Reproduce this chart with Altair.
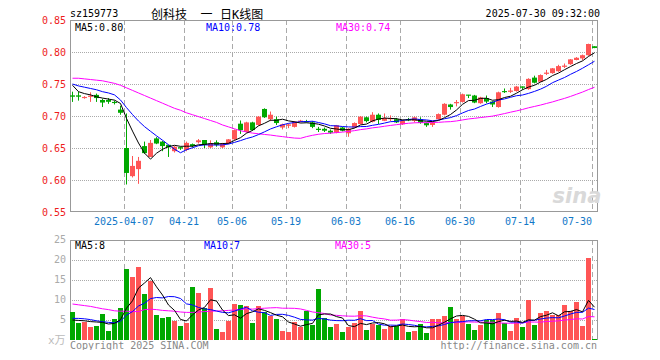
import altair as alt
import numpy as np
import pandas as pd

# ---------------- data ----------------
opens = [0.732, 0.732, 0.728, 0.730, 0.733, 0.725, 0.725, 0.722, 0.710, 0.650,
         0.606, 0.617, 0.653, 0.636, 0.665, 0.660, 0.655, 0.645, 0.651, 0.647,
         0.656, 0.659, 0.6625, 0.651, 0.659, 0.651, 0.657, 0.6635, 0.688, 0.675,
         0.690, 0.686, 0.711, 0.695, 0.695, 0.682, 0.685, 0.683, 0.691, 0.692,
         0.690, 0.680, 0.680, 0.677, 0.674, 0.682, 0.673, 0.682, 0.6875, 0.698,
         0.691, 0.702, 0.6925, 0.695, 0.695, 0.687, 0.695, 0.6925, 0.695, 0.689,
         0.686, 0.695, 0.702, 0.718, 0.720, 0.722, 0.733, 0.732, 0.720, 0.728,
         0.7225, 0.714, 0.739, 0.738, 0.739, 0.746, 0.742, 0.760, 0.7535, 0.766,
         0.767, 0.770, 0.777, 0.781, 0.7875, 0.790, 0.795, 0.809]
highs = [0.738, 0.738, 0.731, 0.737, 0.735, 0.727, 0.728, 0.724, 0.716, 0.704,
         0.6375, 0.636, 0.660, 0.6625, 0.667, 0.661, 0.655, 0.653, 0.652, 0.660,
         0.657, 0.664, 0.6625, 0.662, 0.662, 0.658, 0.664, 0.679, 0.693, 0.691,
         0.691, 0.700, 0.712, 0.707, 0.699, 0.688, 0.688, 0.692, 0.694, 0.694,
         0.692, 0.683, 0.682, 0.679, 0.686, 0.683, 0.681, 0.690, 0.700, 0.699,
         0.706, 0.704, 0.704, 0.701, 0.697, 0.694, 0.697, 0.699, 0.698, 0.690,
         0.691, 0.704, 0.720, 0.719, 0.725, 0.735, 0.733, 0.733, 0.730, 0.732,
         0.723, 0.738, 0.743, 0.744, 0.747, 0.746, 0.759, 0.763, 0.765, 0.772,
         0.775, 0.780, 0.782, 0.789, 0.792, 0.796, 0.813, 0.809]
lows = [0.722, 0.724, 0.727, 0.722, 0.722, 0.714, 0.719, 0.718, 0.702, 0.593,
        0.604, 0.594, 0.641, 0.636, 0.656, 0.645, 0.636, 0.643, 0.647, 0.645,
        0.651, 0.657, 0.650, 0.650, 0.652, 0.650, 0.656, 0.662, 0.672, 0.674,
        0.677, 0.685, 0.697, 0.692, 0.686, 0.679, 0.681, 0.682, 0.690, 0.690,
        0.681, 0.675, 0.675, 0.672, 0.673, 0.676, 0.6675, 0.681, 0.687, 0.690,
        0.690, 0.6875, 0.692, 0.692, 0.689, 0.686, 0.692, 0.690, 0.688, 0.683,
        0.683, 0.694, 0.701, 0.710, 0.715, 0.721, 0.728, 0.720, 0.719, 0.720,
        0.714, 0.713, 0.736, 0.736, 0.738, 0.741, 0.741, 0.751, 0.753, 0.764,
        0.766, 0.769, 0.775, 0.780, 0.787, 0.787, 0.794, 0.806]
closes = [0.731, 0.731, 0.729, 0.731, 0.728, 0.721, 0.723, 0.721, 0.705, 0.611,
          0.622, 0.630, 0.642, 0.658, 0.657, 0.653, 0.651, 0.652, 0.650, 0.658,
          0.653, 0.662, 0.655, 0.657, 0.655, 0.656, 0.6635, 0.678, 0.678, 0.690,
          0.678, 0.699, 0.698, 0.702, 0.689, 0.687, 0.686, 0.691, 0.692, 0.691,
          0.683, 0.679, 0.677, 0.674, 0.6855, 0.677, 0.680, 0.689, 0.699, 0.692,
          0.702, 0.694, 0.697, 0.696, 0.690, 0.6925, 0.694, 0.698, 0.689, 0.6855,
          0.690, 0.703, 0.719, 0.714, 0.721, 0.734, 0.7325, 0.721, 0.729, 0.7225,
          0.718, 0.737, 0.738, 0.739, 0.746, 0.745, 0.758, 0.752, 0.764, 0.767,
          0.7745, 0.778, 0.778, 0.7885, 0.791, 0.795, 0.8125, 0.807]
volumes = [7.0, 4.25, 4.5, 3.25, 3.5, 6.5, 2.25, 5.25, 8.0, 17.75,
           15.75, 18.25, 11.5, 14.75, 6.25, 5.5, 5.75, 4.75, 3.5, 4.25,
           13.25, 11.75, 8.0, 13.0, 2.75, 2.0, 4.75, 9.0, 8.75, 8.5,
           4.25, 8.5, 7.0, 6.0, 5.25, 2.25, 2.0, 4.5, 3.25, 7.25,
           3.75, 12.75, 5.5, 3.25, 4.0, 2.0, 3.25, 4.25, 7.25, 2.5,
           4.0, 3.75, 2.75, 3.5, 3.5, 5.25, 2.0, 2.25, 4.0, 1.75,
           5.25, 5.25, 6.0, 8.25, 5.25, 6.0, 4.0, 2.5, 3.75, 5.0,
           5.0, 6.75, 4.25, 2.25, 5.5, 3.25, 10.0, 3.75, 6.75, 7.25,
           6.25, 6.25, 8.75, 7.25, 9.5, 3.5, 20.5, 0.25]

# moving-average values at the left edge (their windows start before the chart)
ma5_head = [0.748, 0.738, 0.735, 0.733]
ma10_head = [0.750, 0.747, 0.745, 0.743, 0.741, 0.738, 0.736, 0.733, 0.725]
ma30_head = [0.759, 0.759, 0.758, 0.757, 0.756, 0.755, 0.753, 0.751, 0.748, 0.744,
             0.740, 0.736, 0.732, 0.728, 0.724, 0.720, 0.716, 0.712, 0.709, 0.705,
             0.702, 0.699, 0.696, 0.693, 0.690, 0.686, 0.683, 0.680, 0.677]
vma5_head = [5.0, 4.9, 4.8, 4.6]
vma10_head = [5.4, 5.4, 5.3, 5.1, 4.8, 4.6, 4.4, 4.3, 4.7]
vma30_head = [9.0, 8.8, 8.6, 8.4, 8.1, 7.8, 7.6, 7.3, 7.2, 7.2,
              7.1, 7.1, 7.6, 7.7, 7.6, 7.4, 7.3, 7.2, 7.0, 6.9,
              6.9, 7.0, 7.1, 7.2, 7.25, 7.3, 7.4, 7.5, 7.6]

tick_idx = [9, 19, 27, 36, 46, 55, 65, 75]
tick_lab = ["2025-04-07", "04-21", "05-06", "05-19", "06-03", "06-16", "06-30", "07-14"]
last_idx = [87]
last_lab = ["07-30"]
price_grid = [0.80, 0.75, 0.70, 0.65, 0.60]
price_ticks = [0.85, 0.80, 0.75, 0.70, 0.65, 0.60, 0.55]
vol_grid = [5, 10, 15, 20]
vol_ticks = [25, 20, 15, 10, 5]

# ---------------- build tables ----------------
n = len(closes)
df = pd.DataFrame({"i": np.arange(n), "o": opens, "h": highs, "l": lows,
                   "c": closes, "v": volumes})
df["dir"] = np.where(df["c"] >= df["o"], "up", "down")


def mov(s, w, head):
    m = s.rolling(w).mean()
    m.iloc[: w - 1] = head
    return m


df["ma5"] = mov(df["c"], 5, ma5_head)
df["ma10"] = mov(df["c"], 10, ma10_head)
df["ma30"] = mov(df["c"], 30, ma30_head)
df["vma5"] = mov(df["v"], 5, vma5_head)
df["vma10"] = mov(df["v"], 10, vma10_head)
df["vma30"] = mov(df["v"], 30, vma30_head)

RED = "#ff5555"
GREEN = "#00a800"
GRID = "#aaaaaa"
BORDER = "#999999"
MONO = "DejaVu Sans Mono"
CJK = "DejaVu Sans Mono, Noto Sans CJK SC"
W, H = 528, 320

XS = alt.Scale(domain=[0, 88], nice=False, zero=False)
PS = alt.Scale(domain=[0.35, 0.85], nice=False, zero=False)
VS = alt.Scale(domain=[0, 80], nice=False, zero=False)


def X(f):
    return alt.X(f, type="quantitative", scale=XS, axis=None)


def PY(f):
    return alt.Y(f, type="quantitative", scale=PS, axis=None)


def VY(f):
    return alt.Y(f, type="quantitative", scale=VS, axis=None)


COL = alt.Color("dir:N", scale=alt.Scale(domain=["up", "down"], range=[RED, GREEN]), legend=None)

base = alt.Chart(df).transform_calculate(
    xl="datum.i", xr="datum.i + 5/6", xc="datum.i + 5/12")

layers = []

# ---- frame & grids ----
dummy = pd.DataFrame({"k": [0]})


def frame(x, x2, y, y2):
    return alt.Chart(dummy).mark_rule(color=BORDER, strokeWidth=1).encode(
        x=alt.value(x), x2=alt.value(x2), y=alt.value(y), y2=alt.value(y2))


ticks_all = pd.DataFrame({"idx": tick_idx + last_idx})
vg = alt.Chart(ticks_all).transform_calculate(xg="datum.idx + 1/12")
layers.append(vg.mark_rule(color=GRID, strokeWidth=1, strokeDash=[5, 3]).encode(
    x=X("xg:Q"), y=alt.value(0), y2=alt.value(192)))
layers.append(vg.mark_rule(color=GRID, strokeWidth=1, strokeDash=[5, 3]).encode(
    x=X("xg:Q"), y=alt.value(220), y2=alt.value(320)))

layers.append(alt.Chart(pd.DataFrame({"p": price_grid}))
              .transform_calculate(yp="datum.p - 0.5/640")
              .mark_rule(color=GRID, strokeWidth=1, strokeDash=[1, 1])
              .encode(y=PY("yp:Q"), x=alt.value(0), x2=alt.value(W)))
layers.append(alt.Chart(pd.DataFrame({"q": vol_grid}))
              .transform_calculate(yq="datum.q - 0.125")
              .mark_rule(color=GRID, strokeWidth=1, strokeDash=[1, 1])
              .encode(y=VY("yq:Q"), x=alt.value(0), x2=alt.value(W)))

layers += [frame(0, W, 0.5, 0.5), frame(0, W, 191.5, 191.5),
           frame(0.5, 0.5, 0, 192), frame(527.5, 527.5, 0, 192),
           frame(0, W, 220.5, 220.5), frame(0.5, 0.5, 220, 320),
           frame(527.5, 527.5, 220, 320)]

# ---- watermark ----
layers.append(alt.Chart(dummy).mark_text(
    text="sina", font="DejaVu Sans", fontSize=21, fontStyle="italic", fontWeight="bold",
    color="#d9d9d9", align="center", baseline="alphabetic").encode(
    x=alt.value(507), y=alt.value(183)))

# ---- candles ----
layers.append(base.mark_rule(strokeWidth=1).encode(x=X("xc:Q"), y=PY("l:Q"), y2="h:Q", color=COL))
layers.append(base.mark_bar().encode(x=X("xl:Q"), x2="xr:Q", y=PY("o:Q"), y2="c:Q", color=COL))
layers.append(base.transform_filter("abs(datum.o - datum.c) < 0.0025").mark_rule(strokeWidth=1).encode(
    x=X("xl:Q"), x2="xr:Q", y=PY("c:Q"), color=COL))

for f, colr in [("ma30", "#ff00ff"), ("ma10", "#0000ff"), ("ma5", "#000000")]:
    layers.append(base.mark_line(color=colr, strokeWidth=1).encode(x=X("xc:Q"), y=PY(f + ":Q")))

# ---- volume ----
layers.append(base.mark_bar().encode(x=X("xl:Q"), x2="xr:Q", y=VY("v:Q"), y2=alt.datum(0), color=COL))
for f, colr in [("vma30", "#ff00ff"), ("vma10", "#0000ff"), ("vma5", "#000000")]:
    layers.append(base.mark_line(color=colr, strokeWidth=1).encode(x=X("xc:Q"), y=VY(f + ":Q")))

# ---- axis labels ----
layers.append(alt.Chart(pd.DataFrame({"p": price_ticks})).mark_text(
    font=MONO, fontSize=10, color="#ee1c1c", align="right", baseline="middle", dy=1).encode(
    x=alt.value(-4), y=PY("p:Q"), text=alt.Text("p:Q", format=".2f")))
layers.append(alt.Chart(pd.DataFrame({"q": vol_ticks})).mark_text(
    font=MONO, fontSize=10, color="#aaaaaa", align="right", baseline="middle").encode(
    x=alt.value(-4), y=VY("q:Q"), text=alt.Text("q:Q")))
layers.append(alt.Chart(pd.DataFrame({"idx": tick_idx, "lab": tick_lab})).mark_text(
    font=MONO, fontSize=10, color="#1278c8", align="center", baseline="middle").encode(
    x=X("idx:Q"), y=alt.value(201.5), text="lab:N"))
layers.append(alt.Chart(pd.DataFrame({"idx": last_idx, "lab": last_lab})).mark_text(
    font=MONO, fontSize=10, color="#1278c8", align="right", baseline="middle").encode(
    x=X("idx:Q"), y=alt.value(201.5), text="lab:N"))


def txt(s, x, y, color, align="left", font=MONO, size=10):
    return alt.Chart(dummy).mark_text(text=s, font=font, fontSize=size, color=color,
                                      align=align, baseline="middle").encode(
        x=alt.value(x), y=alt.value(y))


layers += [
    txt("sz159773", 0, -6, "#000000"),
    txt("创科技", 81, -5, "#000000", font=CJK, size=12),
    txt("一", 136.5, -5, "#000000", align="center", font=CJK, size=12),
    txt("日K线图", 150, -5, "#000000", font=CJK, size=12),
    txt("2025-07-30 09:32:00", 530, -6, "#000000", align="right"),
    txt("MA5:0.80", 5, 8, "#000000"),
    txt("MA10:0.78", 136, 8, "#0000ff"),
    txt("MA30:0.74", 266, 8, "#ff00ff"),
    txt("MA5:8", 5, 226, "#000000"),
    txt("MA10:7", 134, 226, "#0000ff"),
    txt("MA30:5", 265, 226, "#ff00ff"),
    txt("x万", -22, 321, "#bbbbbb", font=CJK, size=11),
    txt("Copyright 2025 SINA.COM", 0, 325.5, "#888888"),
    txt("http://finance.sina.com.cn", 527, 325.5, "#888888", align="right"),
]

chart = alt.layer(*layers).resolve_scale(y="independent").properties(
    width=W, height=H,
    autosize=alt.AutoSizeParams(type="none"),
    padding={"left": 62, "top": 12, "right": 50, "bottom": 10},
    background="white",
).configure_view(stroke=None)

chart.save("out.html", embed_options={"renderer": "svg", "actions": False})
